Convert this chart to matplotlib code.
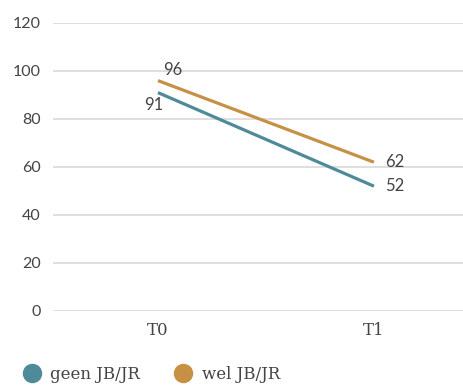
import matplotlib.pyplot as plt
from matplotlib.lines import Line2D

# data
categories = ['T0', 'T1']
geen = [91, 52]
wel = [96, 62]
series_names = ['geen JB/JR', 'wel JB/JR']
yticks = [0, 20, 40, 60, 80, 100, 120]

blue = '#4f8a99'
orange = '#c69145'
grid_col = '#d9d9d9'
text_col = '#444444'

fig = plt.figure(figsize=(4.64, 3.90), dpi=100)
ax = fig.add_axes([53/464, 1 - 311/390, (464-53)/464, (311-23)/390])

x = list(range(len(categories)))
ax.plot(x, geen, color=blue, lw=2.3, solid_capstyle='butt', zorder=3)
ax.plot(x, wel, color=orange, lw=2.3, solid_capstyle='butt', zorder=3)

ax.set_ylim(0, 120)
ax.set_xlim(-0.486, 1.417)
ax.set_yticks(yticks)
ax.set_yticklabels([str(v) for v in yticks], fontsize=11.5, color=text_col, family='Lato')
ax.set_xticks(x)
ax.set_xticklabels(categories, fontsize=12, color=text_col, family='DejaVu Serif')
ax.tick_params(length=0)
ax.tick_params(axis='y', pad=9)
ax.tick_params(axis='x', pad=8)
ax.grid(axis='y', color=grid_col, lw=1.2)
ax.set_axisbelow(True)
for s in ax.spines.values():
    s.set_visible(False)

# value labels
lab = dict(fontsize=12, color=text_col, family='Lato')
ax.annotate(str(wel[0]), (x[0], wel[0]), xytext=(4, 2), textcoords='offset points', ha='left', va='bottom', **lab)
ax.annotate(str(geen[0]), (x[0], geen[0]), xytext=(4, -3), textcoords='offset points', ha='right', va='top', **lab)
ax.annotate(str(wel[1]), (x[1], wel[1]), xytext=(8, 0), textcoords='offset points', ha='left', va='center', **lab)
ax.annotate(str(geen[1]), (x[1], geen[1]), xytext=(8, 0), textcoords='offset points', ha='left', va='center', **lab)

handles = [Line2D([], [], marker='o', ls='', color=c, markersize=13) for c in (blue, orange)]
fig.legend(handles, series_names, loc='lower left', bbox_to_anchor=(0.0, -0.02), ncol=2, frameon=False,
           handletextpad=0.1, columnspacing=1.6, prop={'family': 'DejaVu Serif', 'size': 12},
           labelcolor=text_col)

fig.savefig('out.png', dpi=100)
